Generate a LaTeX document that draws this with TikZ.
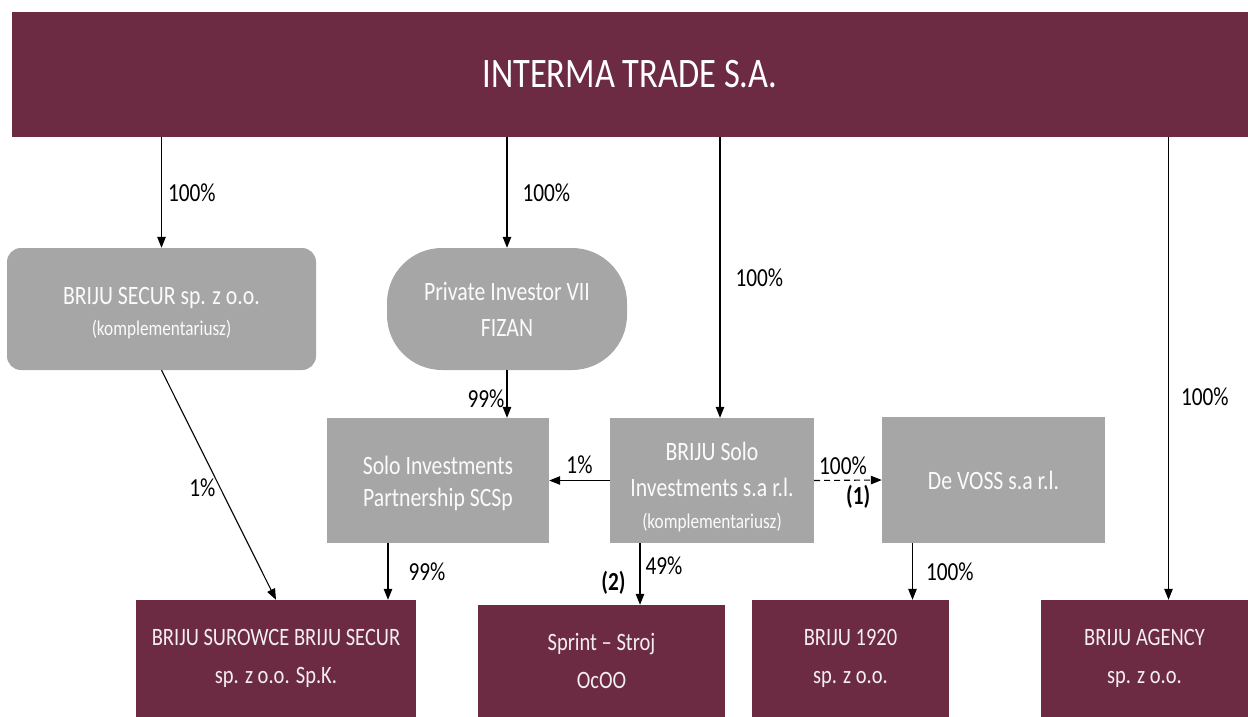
\documentclass[tikz,border=0pt]{standalone}
\usepackage{fontspec}
\setmainfont[FakeStretch=0.82]{Carlito}
\usetikzlibrary{arrows.meta}
\definecolor{maroon}{HTML}{6D2A43}
\definecolor{boxgray}{HTML}{A6A6A6}

\begin{document}
\begin{tikzpicture}[x=1pt, y=-1pt,
    graybox/.style={fill=boxgray, text=white!95!boxgray, align=center, inner sep=0pt,
      font=\fontsize{26.5}{36}\selectfont},
    darkbox/.style={fill=maroon, text=white!92!maroon, align=center, inner sep=0pt,
      font=\fontsize{25}{38}\selectfont},
    arr/.style={line width=1.1pt, -{Triangle[length=11pt,width=8.5pt]}},
    pct/.style={font=\fontsize{26}{30}\selectfont, inner sep=0pt}]
  \useasboundingbox (0,0) rectangle (1248,717);

  % Draw the parent company
  \node[fill=maroon, text=white, minimum width=1236pt, minimum height=125pt,
    font=\fontsize{42}{50}\selectfont] (top) at (630,74.5) {INTERMA TRADE S.A.};

  % Draw the grey entities
  \node[graybox, rounded corners=14pt, minimum width=309pt, minimum height=122pt] (secur) at (161.5,309)
    {\rule{0pt}{26pt}BRIJU SECUR sp. z o.o.\\[-5pt] \fontsize{21}{29}\selectfont (komplementariusz)};
  \node[graybox, rounded corners=55pt, minimum width=240pt, minimum height=122pt] (pi) at (507,309)
    {Private Investor VII\\ FIZAN};
  \node[graybox, minimum width=222pt, minimum height=125pt] (part) at (438,480.5)
    {\rule{0pt}{24pt}Solo Investments\\[-4pt] Partnership SCSp};
  \node[graybox, minimum width=204pt, minimum height=125pt] (solo) at (712,480.5)
    {\rule{0pt}{32pt}BRIJU Solo\\ Investments s.a r.l.\\[-4pt] \fontsize{21}{33}\selectfont (komplementariusz)};
  \node[graybox, minimum width=223pt, minimum height=126pt] (voss) at (993.5,480)
    {De VOSS s.a r.l.};

  % Draw the subsidiaries
  \node[darkbox, minimum width=280pt, minimum height=117pt] (surowce) at (276,658.5)
    {BRIJU SUROWCE BRIJU SECUR\\ sp. z o.o. Sp.K.};
  \node[darkbox, minimum width=247pt, minimum height=112pt] (sprint) at (601.5,661)
    {Sprint -- Stroj\\ OcOO};
  \node[darkbox, minimum width=197pt, minimum height=117pt] (b1920) at (850.5,658.5)
    {BRIJU 1920\\ sp. z o.o.};
  \node[darkbox, minimum width=207pt, minimum height=117pt] (agency) at (1144.5,658.5)
    {BRIJU AGENCY\\ sp. z o.o.};

  % Connection points off centre
  \coordinate (soloin) at ([xshift=8pt]solo.north);
  \coordinate (agin) at ([xshift=24pt]agency.north);
  \coordinate (partout) at ([xshift=-50pt]part.south);
  \coordinate (soloout) at ([xshift=-72pt]solo.south);
  \coordinate (vossout) at ([xshift=-81pt]voss.south);

  % Draw the shares held by the parent
  \draw[arr] (top.south -| secur.north) -- node[pct, right=6pt] {100\%} (secur.north);
  \draw[arr] (top.south -| pi.north) -- node[pct, right=15pt] {100\%} (pi.north);
  \draw[arr] (top.south -| soloin) -- node[pct, right=15pt] {100\%} (soloin);
  \draw[arr] (top.south -| agin) -- node[pct, pos=0.56, right=12pt] {100\%} (agin);

  % Draw the remaining shares
  \draw[arr] (pi.south) -- node[pct, pos=0.6, left=2pt] {99\%} (pi.south |- part.north);
  \draw[arr] (solo.west) -- node[pct, above=6pt] {1\%} (part.east);
  \draw[arr, dash pattern=on 6pt off 4pt] (solo.east) -- node[pct, above=5pt, xshift=-5pt] {100\%}
    node[pct, pos=0.65, below=4pt, font=\fontsize{26}{30}\selectfont\bfseries] {(1)} (voss.west);
  \draw[arr] (secur.south) -- node[pct, pos=0.51, left=4pt] {1\%} (surowce.north);
  \draw[arr] (partout) -- node[pct, right=20pt] {99\%} (partout |- surowce.north);
  \draw[arr] (soloout) -- node[pct, pos=0.37, right=5pt] {49\%}
    node[pct, pos=0.64, left=14pt, font=\fontsize{26}{30}\selectfont\bfseries] {(2)} (soloout |- sprint.north);
  \draw[arr] (vossout) -- node[pct, right=13pt] {100\%} (vossout |- b1920.north);
\end{tikzpicture}
\end{document}
